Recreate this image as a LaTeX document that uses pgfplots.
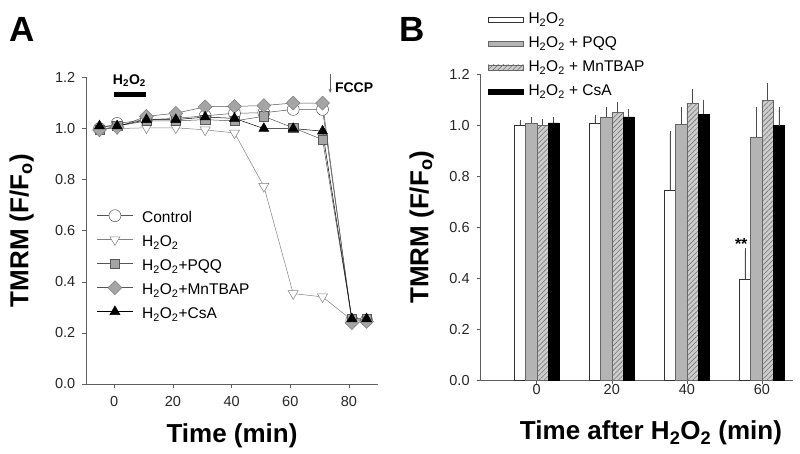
\documentclass[border=0pt]{standalone}
\usepackage{pgfplots}
\pgfplotsset{compat=1.18}
\usepackage{fontspec}
\setmainfont{Liberation Sans}
\usetikzlibrary{patterns.meta,arrows.meta}
\definecolor{mgray}{RGB}{165,165,165}
\definecolor{bgray}{RGB}{180,180,180}
\definecolor{hgray}{RGB}{205,205,205}
\definecolor{lgray}{RGB}{85,85,85}
\definecolor{agray}{RGB}{95,95,95}

\pgfplotsset{
  panel/.style={
    scale only axis,
    axis x line*=bottom, axis y line*=left,
    axis line style={agray, line width=0.6pt, -},
    tick style={agray, line width=0.6pt},
    tick align=outside,
    major tick length=4pt,
    ymin=0, ymax=1.2,
    ytick={0,0.2,0.4,0.6,0.8,1.0,1.2},
    /pgf/number format/assume math mode=true,
    y tick label style={/pgf/number format/fixed, /pgf/number format/fixed zerofill, /pgf/number format/precision=1},
    tick label style={font=\fontsize{14.5pt}{17pt}\selectfont, text=black!85},
    label style={font=\bfseries\fontsize{26pt}{30pt}\selectfont},
    legend cell align=left,
    clip=false,
  }
}

\begin{document}
\begin{tikzpicture}
\path[use as bounding box] (0,0) rectangle (800pt,454pt);

\node[font=\bfseries\fontsize{35pt}{40pt}\selectfont, anchor=base] at (22.5pt,412pt) {A};
\node[font=\bfseries\fontsize{35pt}{40pt}\selectfont, anchor=base] at (412.5pt,412.3pt) {B};

% ---------------- Panel A ----------------
\begin{axis}[panel,
  at={(86pt,70pt)}, anchor=south west, width=292pt, height=306.5pt,
  xmin=-9.6, xmax=89.9, xtick={0,20,40,60,80},
  x tick label style={yshift=-5pt},
  y tick label style={xshift=-3.2pt},
  xlabel={Time (min)}, ylabel={TMRM (F/F\textsubscript{o})},
  xlabel style={at={(axis description cs:0.5,-0.1925)}, anchor=base},
  ylabel style={at={(axis description cs:-0.1976,0.5)}, anchor=base},
  legend style={draw=none, fill=none, at={(axis description cs:0.0366,0.572)}, anchor=north west,
    font=\fontsize{15.5pt}{18pt}\selectfont, inner sep=0pt, outer sep=0pt,
    row sep=0pt, column sep=9pt,
    nodes={inner sep=0pt, text height=14pt, text depth=10pt}},
  legend image code/.code={\draw[mark repeat=2,mark phase=2,#1] plot coordinates {(0pt,5pt) (18pt,5pt) (36pt,5pt)};},
]
\addplot[color=lgray, line width=0.5pt, mark=*, mark size=6pt,
  mark options={fill=white, draw=lgray, line width=0.5pt}] coordinates {
  (-5,1.00) (1,1.02) (11,1.035) (21,1.04) (31,1.05) (41,1.06) (51,1.062) (61,1.075) (71,1.075) (81,0.25) (86,0.25)};
\addlegendentry{Control}
\addplot[color=gray, line width=0.5pt, mark=triangle*, mark size=5.8pt,
  mark options={rotate=180, fill=white, draw=gray, line width=0.5pt}] coordinates {
  (-5,1.00) (1,1.00) (11,1.003) (21,1.003) (31,0.995) (41,0.983) (51,0.774) (61,0.354) (71,0.341) (81,0.25) (86,0.25)};
\addlegendentry{H\textsubscript{2}O\textsubscript{2}}
\addplot[color=lgray, line width=0.5pt, mark=square*, mark size=4.7pt,
  mark options={fill=mgray, draw=gray!70!black, line width=0.5pt}] coordinates {
  (-5,0.995) (1,1.01) (11,1.03) (21,1.03) (31,1.035) (41,1.03) (51,1.048) (61,1.003) (71,0.957) (81,0.255) (86,0.255)};
\addlegendentry{H\textsubscript{2}O\textsubscript{2}+PQQ}
\addplot[color=lgray, line width=0.5pt, mark=square*, mark size=4.9pt,
  mark options={rotate=45, fill=mgray, draw=gray, line width=0.5pt}] coordinates {
  (-5,0.995) (1,1.005) (11,1.048) (21,1.06) (31,1.085) (41,1.087) (51,1.09) (61,1.1) (71,1.1) (81,0.24) (86,0.245)};
\addlegendentry{H\textsubscript{2}O\textsubscript{2}+MnTBAP}
\addplot[color=black, line width=0.5pt, mark=triangle*, mark size=5.8pt,
  mark options={fill=black, draw=black, line width=0.5pt}] coordinates {
  (-5,1.01) (1,1.01) (11,1.035) (21,1.035) (31,1.045) (41,1.04) (51,1.0) (61,1.0) (71,0.99) (81,0.255) (86,0.255)};
\addlegendentry{H\textsubscript{2}O\textsubscript{2}+CsA}

\draw[line width=5.5pt, black] (axis cs:0,1.133) -- (axis cs:11,1.133);
\node[font=\bfseries\fontsize{14pt}{16pt}\selectfont, anchor=base] at (axis cs:5.2,1.1725) {H\textsubscript{2}O\textsubscript{2}};
\draw[-{Stealth[length=4pt,width=3pt]}, agray, line width=0.6pt] (axis cs:73.6,1.212) -- (axis cs:73.6,1.14);
\node[font=\bfseries\fontsize{14pt}{16pt}\selectfont, anchor=base west, inner sep=0pt] at (axis cs:75.2,1.14) {FCCP};
\end{axis}

% ---------------- Panel B ----------------
\begin{axis}[panel,
  at={(480.5pt,73.5pt)}, anchor=south west, width=312.5pt, height=306.5pt,
  xmin=-15, xmax=68.3, xtick={0,20,40,60},
  x tick label style={yshift=4pt},
  y tick label style={xshift=-3.4pt},
  xlabel={Time after H\textsubscript{2}O\textsubscript{2} (min)}, ylabel={TMRM (F/F\textsubscript{o})},
  xlabel style={at={(axis description cs:0.5456,-0.194)}, anchor=base},
  ylabel style={at={(axis description cs:-0.167,0.5)}, anchor=base},
  legend style={draw=none, fill=none, at={(axis description cs:0.024,1.209)}, anchor=north west,
    font=\fontsize{15.5pt}{18pt}\selectfont, inner sep=0pt, outer sep=0pt,
    row sep=0pt, column sep=5pt,
    nodes={inner sep=0pt, text height=14pt, text depth=10pt}},
  legend image code/.code={\draw[#1] (0pt,0pt) rectangle (35pt,5pt);},
  error bars/y dir=plus, error bars/y explicit,
  error bars/error bar style={black!70, line width=0.5pt},
  error bars/error mark options={black!70, line width=0.5pt, mark size=2.2pt},
]
\addplot[ybar, bar width=3, bar shift=0, fill=white, draw=black!80, line width=0.5pt] coordinates {
  (-4.5,1.000) +- (0,0.013) (15.5,1.009) +- (0,0.023) (35.5,0.746) +- (0,0.222) (55.5,0.396) +- (0,0.113)};
\addlegendentry{H\textsubscript{2}O\textsubscript{2}}
\addplot[ybar, bar width=3, bar shift=0, fill=bgray, draw=black!60, line width=0.5pt] coordinates {
  (-1.5,1.009) +- (0,0.013) (18.5,1.032) +- (0,0.029) (38.5,1.003) +- (0,0.058) (58.5,0.954) +- (0,0.107)};
\addlegendentry{H\textsubscript{2}O\textsubscript{2} + PQQ}
\addplot[ybar, bar width=3, bar shift=0, fill=hgray, draw=black!60, line width=0.5pt,
  postaction={pattern={Lines[angle=45,distance=3.5pt,line width=0.6pt]}, pattern color=black!55}] coordinates {
  (1.5,1.000) +- (0,0.016) (21.5,1.050) +- (0,0.033) (41.5,1.085) +- (0,0.048) (61.5,1.098) +- (0,0.057)};
\addlegendentry{H\textsubscript{2}O\textsubscript{2} + MnTBAP}
\addplot[ybar, bar width=3, bar shift=0, fill=black, draw=black, line width=0.5pt] coordinates {
  (4.5,1.009) +- (0,0.013) (24.5,1.032) +- (0,0.023) (44.5,1.042) +- (0,0.048) (64.5,0.998) +- (0,0.063)};
\addlegendentry{H\textsubscript{2}O\textsubscript{2} + CsA}

\node[font=\bfseries\fontsize{16pt}{18pt}\selectfont] at (axis cs:54.5,0.535) {**};
\end{axis}
\end{tikzpicture}
\end{document}
